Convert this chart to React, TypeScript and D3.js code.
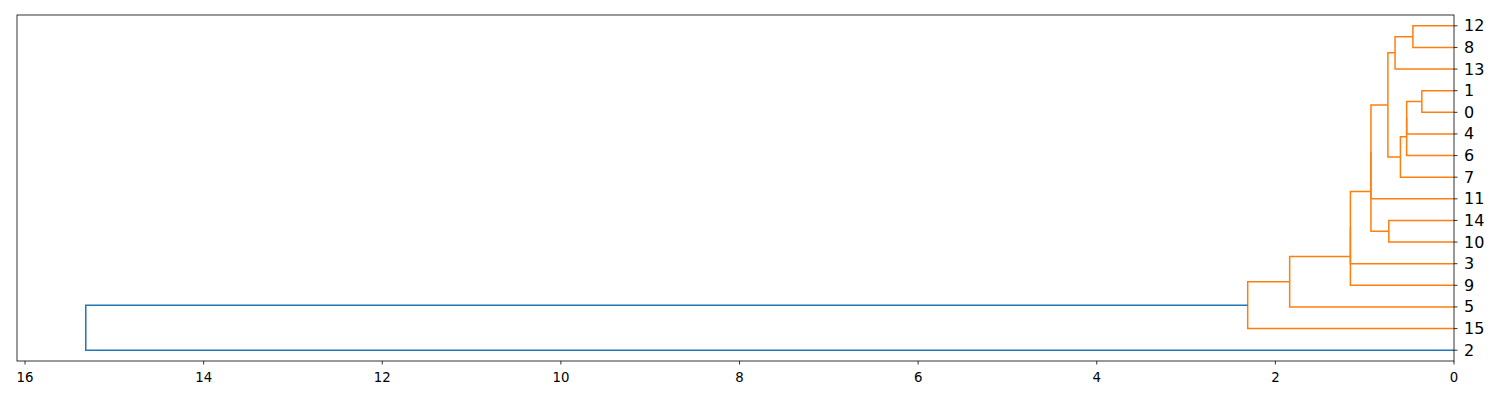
import React from "react";
import * as d3 from "d3";

const leafOrder = [12, 8, 13, 1, 0, 4, 6, 7, 11, 14, 10, 3, 9, 5, 15, 2];
// [childA, childB, distance]; new node id = 16 + index
const links: [number, number, number][] = [
  [12, 8, 0.46],
  [16, 13, 0.66],
  [1, 0, 0.36],
  [18, 4, 0.53],
  [19, 6, 0.53],
  [20, 7, 0.6],
  [17, 21, 0.74],
  [14, 10, 0.73],
  [22, 11, 0.93],
  [24, 23, 0.93],
  [25, 3, 1.16],
  [26, 9, 1.16],
  [27, 5, 1.84],
  [28, 15, 2.31],
  [29, 2, 15.32],
];
const colorThreshold = 10;
const xTicks = [0, 2, 4, 6, 8, 10, 12, 14, 16];

export default function App() {
  const L = 17, R = 1454, T = 15, B = 361;
  const x = d3.scaleLinear().domain([16.09, 0]).range([L, R]);
  const y = d3.scaleLinear().domain([0, leafOrder.length * 10]).range([T, B]);
  const n = leafOrder.length;
  const pos: Record<number, { p: number; d: number }> = {};
  leafOrder.forEach((leaf, i) => (pos[leaf] = { p: i * 10 + 5, d: 0 }));
  const paths: { d: string; c: string }[] = [];
  links.forEach(([a, b, dist], i) => {
    const A = pos[a], Bn = pos[b];
    const c = dist > colorThreshold ? "#1f77b4" : "#ff7f0e";
    paths.push({
      d: `M${x(A.d)},${y(A.p)}H${x(dist)}V${y(Bn.p)}H${x(Bn.d)}`,
      c,
    });
    pos[n + i] = { p: (A.p + Bn.p) / 2, d: dist };
  });
  return (
    <svg width={1500} height={400} style={{ position: "absolute", left: 0, top: 0, background: "#fff" }}
      fontFamily="DejaVu Sans">
      {paths.map((p, i) => (
        <path key={i} d={p.d} fill="none" stroke={p.c} strokeWidth={1.5} />
      ))}
      <rect x={L} y={T} width={R - L} height={B - T} fill="none" stroke="#000" strokeWidth={0.8} />
      {xTicks.map((t) => (
        <g key={t} transform={`translate(${x(t)},${B})`}>
          <line y2={3.5} stroke="#000" strokeWidth={0.8} />
          <text y={17} textAnchor="middle" fontSize={13.3} dominantBaseline="middle" fill="#000">{t}</text>
        </g>
      ))}
      {leafOrder.map((leaf, i) => (
        <g key={leaf} transform={`translate(${R},${y(i * 10 + 5)})`}>
          <line x2={3.5} stroke="#000" strokeWidth={0.8} />
          <text x={10} dominantBaseline="central" fontSize={16} fill="#000">{leaf}</text>
        </g>
      ))}
    </svg>
  );
}
